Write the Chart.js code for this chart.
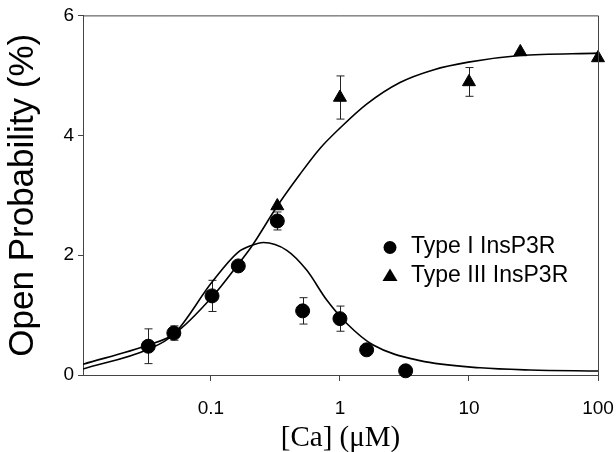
<!DOCTYPE html>
<html>
<head>
<meta charset="utf-8">
<script src="https://cdn.jsdelivr.net/npm/chart.js@4/dist/chart.umd.min.js"></script>
<style>
  html, body { margin: 0; padding: 0; background: #fff; }
</style>
</head>
<body>
<canvas id="openProbChart" width="616" height="452"></canvas>
<script>
// measured points, [Ca] in uM
const concTypeI = [0.0327, 0.0516, 0.102, 0.163, 0.327, 0.514, 1.0, 1.61, 3.23];
const poTypeI = [0.48, 0.70, 1.32, 1.82, 2.57, 1.07, 0.94, 0.42, 0.07];
const errTypeI = [0.29, 0.12, 0.26, 0, 0.15, 0.22, 0.21, 0, 0];

const concTypeIII = [0.327, 1.0, 10, 25, 100];
const poTypeIII = [2.82, 4.63, 4.89, 5.39, 5.29];
const errTypeIII = [0, 0.36, 0.24, 0, 0];

// fitted curves
const fitConcI = [0.0102, 0.0327, 0.0516, 0.102, 0.163, 0.206, 0.255, 0.387, 0.552, 0.79, 1.13, 1.81, 4.17, 12.2, 29.7, 100];
const fitPoI = [0.10, 0.43, 0.68, 1.55, 2.05, 2.16, 2.21, 2.08, 1.75, 1.25, 0.86, 0.50, 0.24, 0.12, 0.083, 0.067];
const fitConcIII = [0.0102, 0.0327, 0.0516, 0.102, 0.163, 0.206, 0.327, 0.49, 0.70, 1.0, 1.61, 2.92, 5.28, 9.9, 24.8, 100];
const fitPoIII = [0.18, 0.50, 0.68, 1.30, 1.85, 2.14, 2.82, 3.35, 3.78, 4.12, 4.52, 4.88, 5.09, 5.22, 5.33, 5.37];

const xTicks = [0.1, 1, 10, 100];
const yTicks = [0, 2, 4, 6];
const legendLabels = ['Type I InsP3R', 'Type III InsP3R'];

const toPoints = (xs, ys) => xs.map((x, i) => ({ x: x, y: ys[i] }));
const axisColor = '#444';
const sansFont = 'Liberation Sans, Arial, sans-serif';

// top and right border of the plot box
const frame = {
    id: 'frame',
    afterDraw(chart) {
        const { ctx, chartArea: a } = chart;
        ctx.save();
        ctx.strokeStyle = axisColor;
        ctx.lineWidth = 1;
        ctx.beginPath();
        ctx.moveTo(a.left, a.top + 0.5);
        ctx.lineTo(a.right + 0.5, a.top + 0.5);
        ctx.lineTo(a.right + 0.5, a.bottom);
        ctx.stroke();
        ctx.restore();
    }
};

const errorBars = {
    id: 'errorBars',
    beforeDatasetsDraw(chart) {
        const { ctx, scales } = chart;
        const sets = [[concTypeI, poTypeI, errTypeI], [concTypeIII, poTypeIII, errTypeIII]];
        ctx.save();
        ctx.strokeStyle = '#222';
        ctx.lineWidth = 1;
        sets.forEach(([xs, ys, es]) => {
            xs.forEach((x, i) => {
                if (!es[i]) return;
                const px = Math.round(scales.x.getPixelForValue(x)) + 0.5;
                const top = scales.y.getPixelForValue(ys[i] + es[i]);
                const bot = scales.y.getPixelForValue(ys[i] - es[i]);
                ctx.beginPath();
                ctx.moveTo(px, top); ctx.lineTo(px, bot);
                ctx.moveTo(px - 4, top); ctx.lineTo(px + 4, top);
                ctx.moveTo(px - 4, bot); ctx.lineTo(px + 4, bot);
                ctx.stroke();
            });
        });
        ctx.restore();
    }
};

const insideLegend = {
    id: 'insideLegend',
    afterDraw(chart) {
        const { ctx } = chart;
        ctx.save();
        ctx.fillStyle = '#000';
        ctx.font = '23px ' + sansFont;
        ctx.textBaseline = 'middle';
        ctx.textAlign = 'left';
        ctx.beginPath();
        ctx.arc(390, 247.5, 6.5, 0, Math.PI * 2);
        ctx.fill();
        ctx.beginPath();
        ctx.moveTo(390, 268.5);
        ctx.lineTo(397.5, 281);
        ctx.lineTo(382.5, 281);
        ctx.closePath();
        ctx.fill();
        ctx.fillText(legendLabels[0], 411, 247);
        ctx.fillText(legendLabels[1], 411, 276);
        ctx.restore();
    }
};

const ctx = document.getElementById('openProbChart');

new Chart(ctx, {
    type: 'scatter',
    data: {
        datasets: [{
            label: legendLabels[0],
            data: toPoints(concTypeI, poTypeI),
            pointStyle: 'circle',
            pointRadius: 7,
            backgroundColor: '#000',
            borderColor: '#000',
            clip: false,
            order: 0
        }, {
            label: legendLabels[1],
            data: toPoints(concTypeIII, poTypeIII),
            pointStyle: 'triangle',
            pointRadius: 7.5,
            backgroundColor: '#000',
            borderColor: '#000',
            clip: false,
            order: 0
        }, {
            label: 'fit I',
            type: 'line',
            data: toPoints(fitConcI, fitPoI),
            pointRadius: 0,
            borderColor: '#000',
            borderWidth: 1.6,
            cubicInterpolationMode: 'monotone',
            fill: false,
            order: 1
        }, {
            label: 'fit III',
            type: 'line',
            data: toPoints(fitConcIII, fitPoIII),
            pointRadius: 0,
            borderColor: '#000',
            borderWidth: 1.6,
            cubicInterpolationMode: 'monotone',
            fill: false,
            order: 1
        }]
    },
    options: {
        responsive: false,
        animation: false,
        layout: {
            padding: { top: 15, right: 18, left: 0, bottom: 0 }
        },
        plugins: {
            legend: { display: false },
            tooltip: { enabled: false }
        },
        scales: {
            x: {
                type: 'logarithmic',
                min: 0.0102,
                max: 100,
                afterBuildTicks: (s) => { s.ticks = xTicks.map(v => ({ value: v })); },
                afterFit: (s) => { s.height = 77; s.paddingRight = 0; s.paddingLeft = 0; },
                ticks: {
                    autoSkip: false,
                    maxRotation: 0,
                    color: '#000',
                    padding: 16,
                    font: { family: sansFont, size: 19 },
                    callback: (v) => String(v)
                },
                grid: { drawOnChartArea: false, tickLength: 6, color: axisColor },
                border: { color: axisColor },
                title: {
                    display: true,
                    text: '[Ca] (μM)',
                    color: '#000',
                    font: { family: 'Liberation Serif, Times New Roman, serif', size: 29 },
                    padding: { top: 0, bottom: -4 }
                }
            },
            y: {
                min: 0,
                max: 6,
                afterBuildTicks: (s) => { s.ticks = yTicks.map(v => ({ value: v })); },
                afterFit: (s) => { s.width = 83; },
                ticks: {
                    color: '#000',
                    padding: 4,
                    font: { family: sansFont, size: 19 }
                },
                grid: { drawOnChartArea: false, tickLength: 5, color: axisColor },
                border: { color: axisColor },
                title: {
                    display: true,
                    text: 'Open Probability (%)',
                    color: '#000',
                    font: { family: sansFont, size: 35 },
                    padding: { top: 2, bottom: 0 }
                }
            }
        }
    },
    plugins: [frame, errorBars, insideLegend]
});
</script>
</body>
</html>
